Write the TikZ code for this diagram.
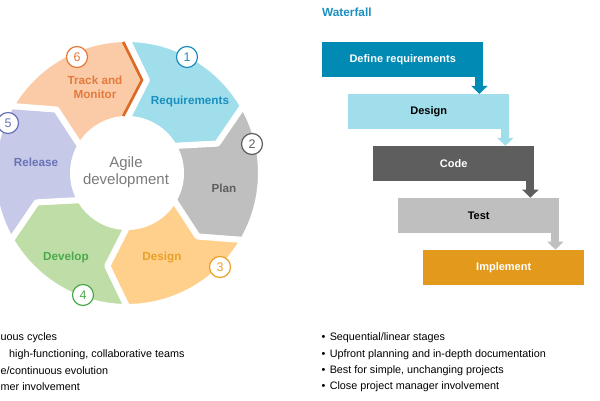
\documentclass[tikz,border=0pt]{standalone}
\usepackage{fontspec}
\setmainfont{Liberation Sans}
\usetikzlibrary{positioning,arrows.meta}

\definecolor{reqfill}{HTML}{A0DEEB}  \definecolor{reqtext}{HTML}{1A8FBF}
\definecolor{planfill}{HTML}{BFBFBF} \definecolor{plantext}{HTML}{5F5F5F}
\definecolor{desfill}{HTML}{FFD08C}  \definecolor{destext}{HTML}{E9A127}
\definecolor{devfill}{HTML}{BFDEA7}  \definecolor{devtext}{HTML}{4CA94C}
\definecolor{relfill}{HTML}{C6CAE8}  \definecolor{reltext}{HTML}{6A72B6}
\definecolor{trkfill}{HTML}{FBCBA8}  \definecolor{trktext}{HTML}{E47A3C}
\definecolor{trkedge}{HTML}{DA6A26}
\definecolor{wfteal}{HTML}{008AB4}   \definecolor{wfcyan}{HTML}{A0DEEB}
\definecolor{wfdark}{HTML}{5E5E5E}   \definecolor{wfgray}{HTML}{BFBFBF}
\definecolor{wforange}{HTML}{E39A1C} \definecolor{agilegray}{HTML}{7A7A7A}

\begin{document}
\begin{tikzpicture}[
  x=1pt, y=1pt,
  seg/.style={fill=#1, draw=white, line width=6pt, line join=round},
  seglbl/.style={text=#1, align=center, font=\fontsize{11.7}{14}\selectfont\bfseries},
  numc/.style={circle, draw=#1, text=#1, fill=white, line width=1.2pt,
               minimum size=21pt, inner sep=0pt, font=\fontsize{12.5}{12.5}\selectfont},
  wbox/.style={fill=#1, minimum width=161pt, minimum height=35pt, inner sep=0pt,
               font=\fontsize{11}{13}\selectfont\bfseries},
  wseta/.style={draw=#1, line width=8pt, -{Triangle[length=8pt, width=16pt]}},
  item/.style={anchor=west, inner sep=0pt, font=\fontsize{10.8}{12}\selectfont},
]
\useasboundingbox (0,0) rectangle (600,400);
\clip (0,0) rectangle (600,400);

% ---- Ciclo agil
\begin{scope}[shift={(127,227)}]
  \foreach \a/\cf in {90/reqfill, 30/planfill, -30/desfill, -90/devfill, -150/relfill, 150/trkfill}
    \filldraw[seg=\cf]
      (\a:134pt) arc[start angle=\a, end angle=\a-60, radius=134pt]
      -- (\a-72:95pt) -- (\a-60:54pt)
      arc[start angle=\a-60, end angle=\a, radius=54pt]
      -- (\a-12:95pt) -- cycle;
  \draw[trkedge, line width=2.6pt] (-3.8,131) -- (15,93) -- (-3.8,57);

  \node[text=agilegray, align=center, font=\fontsize{15}{17}\selectfont] (agile) at (-1,1) {Agile\\development};

  \node[seglbl=reqtext] (req) at (63,72) {Requirements};
  \node[seglbl=plantext] (plan) at (97,-15) {Plan};
  \node[seglbl=destext] (des) at (35,-84) {Design};
  \node[seglbl=devtext] (dev) at (-61,-84) {Develop};
  \node[seglbl=reltext] (rel) at (-91,11) {Release};
  \node[seglbl=trktext] (trk) at (-32,86) {Track and\\Monitor};

  \node[numc=reqtext] (n1) at (60,116) {1};
  \node[numc=plantext] (n2) at (125,29) {2};
  \node[numc=destext] (n3) at (93,-94) {3};
  \node[numc=devtext] (n4) at (-44,-122) {4};
  \node[numc=reltext] (n5) at (-119,50) {5};
  \node[numc=trktext] (n6) at (-50,116) {6};
\end{scope}

% ---- Waterfall
\node[anchor=west, inner sep=0pt, text=reqtext, font=\fontsize{11.8}{14}\selectfont\bfseries] (wft) at (322,388) {Waterfall};
\node[wbox=wfteal, text=white, anchor=north west] (wreq) at (322,358) {Define requirements};
\node[wbox=wfcyan, text=black, below=16.5pt of wreq.south west, anchor=north west, xshift=26pt] (wdes) {Design};
\node[wbox=wfdark, text=white, below=16.5pt of wdes.south west, anchor=north west, xshift=25pt] (wcode) {Code};
\node[wbox=wfgray, text=black, below=16.5pt of wcode.south west, anchor=north west, xshift=25pt] (wtest) {Test};
\node[wbox=wforange, text=white, below=16.5pt of wtest.south west, anchor=north west, xshift=25pt] (wimpl) {Implement};

\draw[wseta=wfteal] ([xshift=-4pt]wreq.south east) -- ([xshift=-4pt]wreq.south east |- wdes.north);
\draw[wseta=wfcyan] ([xshift=-4pt]wdes.south east) -- ([xshift=-4pt]wdes.south east |- wcode.north);
\draw[wseta=wfdark] ([xshift=-4pt]wcode.south east) -- ([xshift=-4pt]wcode.south east |- wtest.north);
\draw[wseta=wfgray] ([xshift=-4pt]wtest.south east) -- ([xshift=-4pt]wtest.south east |- wimpl.north);

% ---- Listas
\node[item] (a1) at (0.5,62) {uous cycles};
\node[item] (a2) at (9,45.7) {high-functioning, collaborative teams};
\node[item] (a3) at (0.5,29.4) {e/continuous evolution};
\node[item] (a4) at (0.5,13.1) {mer involvement};

\foreach \t [count=\i] in {{Sequential/linear stages}, {Upfront planning and in-depth documentation},
                           {Best for simple, unchanging projects}, {Close project manager involvement}}
  \node[item] (w\i) at (321.5,78.3-16.3*\i) {\textbullet\hspace{4.3pt}\t};
\end{tikzpicture}
\end{document}
